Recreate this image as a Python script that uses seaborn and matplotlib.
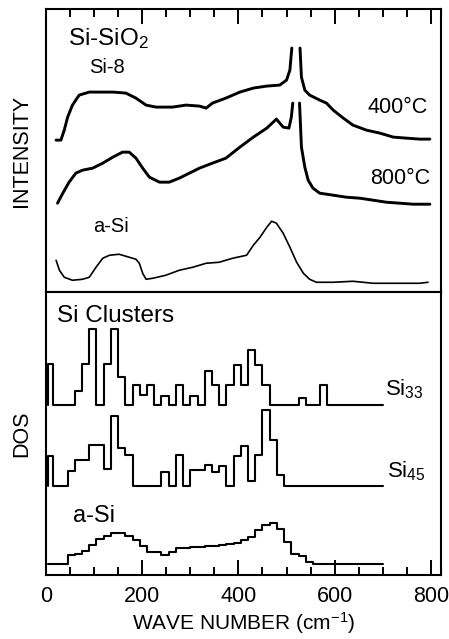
import numpy as np
import pandas as pd
import matplotlib
matplotlib.use("Agg")
import matplotlib.pyplot as plt
from matplotlib.ticker import MultipleLocator
import seaborn as sns

# Raman spectra (top panel) - wave number (cm-1) vs intensity (arb. units)
# nan = peak runs off the drawn range (line is broken there)
wn_400 = [21, 31, 38, 45, 55, 69, 90, 111, 139, 166, 187, 208, 229, 263, 291, 319, 333, 346, 374, 403,
          431, 459, 486, 500, 507, 511, 520, 528, 531, 538, 548, 569, 583, 597, 618, 638, 666, 694, 722, 749,
          777, 798]
int_400 = [152, 152, 162, 175, 187, 197, 200, 200, 200, 199, 194, 187, 185, 185, 187, 186, 184, 189, 194, 200,
           204, 206, 207, 212, 222, 244, np.nan, 244, 215, 202, 197, 192, 189, 182, 174, 167, 162, 159, 155, 154,
           153, 153]

wn_800 = [24, 35, 48, 62, 76, 97, 118, 139, 159, 173, 187, 201, 215, 236, 256, 277, 298, 319, 346, 374,
          403, 431, 459, 479, 493, 505, 510, 513, 520, 527, 531, 538, 545, 555, 569, 597, 624, 652, 680, 707,
          735, 763, 798]
int_800 = [89, 99, 110, 119, 122, 124, 129, 135, 140, 140, 134, 124, 115, 110, 110, 114, 119, 124, 129, 134,
           145, 155, 164, 173, 165, 164, 175, 189, np.nan, 189, 145, 125, 112, 104, 99, 97, 95, 94, 92, 90,
           89, 88, 88]

wn_asi = [21, 28, 38, 55, 76, 90, 104, 118, 132, 152, 173, 187, 194, 201, 208, 222, 249, 277, 305, 333,
          360, 388, 417, 431, 445, 459, 469, 479, 493, 507, 521, 535, 548, 562, 597, 638, 680, 735, 777, 794]
int_asi = [32, 22, 15, 12, 13, 15, 25, 34, 37, 38, 35, 33, 29, 19, 13, 14, 17, 22, 25, 29,
           30, 34, 37, 47, 55, 65, 71, 69, 59, 45, 30, 19, 13, 10, 10, 11, 9, 9, 9, 10]

# density of states (bottom panel), 15 cm-1 bins
dos_edges = [5] + list(range(15, 700, 15)) + [700]
dos_si33 = [41.7, 0, 0, 0, 14.3, 41.7, 76, 0, 41.7, 76, 28, 0, 20.7, 10, 20.7, 0, 9, 0, 20.7, 0,
            9, 0, 34, 20.7, 0, 20.7, 40.7, 20.7, 55, 40.7, 20.7, 0, 0, 0, 0, 7.3, 0, 0, 20.7, 0,
            0, 0, 0, 0, 0, 0, 0]
dos_si45 = [30.5, 0, 0, 15, 26, 26, 41, 41, 17, 70.5, 38, 31, 0, 0, 0, 0, 14, 0, 31, 0,
            16, 16, 21, 14, 20, 0, 30, 40.5, 5.5, 31, 76, 46, 11, 0, 0, 0, 0, 0, 0, 0,
            0, 0, 0, 0, 0, 0, 0]
dos_asi = [0, 0, 0, 9, 10.5, 13, 19, 25, 28.5, 31, 31, 28.5, 24, 18, 12, 12, 9, 12.5, 16.5, 16.5,
           17, 17.5, 18, 18.5, 19, 20.5, 21, 24, 27.5, 34, 39, 41.5, 35, 22, 10.5, 8.3, 2, 0, 0, 0,
           0, 0, 0, 0, 0, 0, 0]

# vertical offsets of the stacked DOS curves
off_si33, off_si45, off_asi = 170, 89, 11

sns.set_style("ticks")
plt.rcParams['font.family'] = ['Liberation Sans', 'DejaVu Sans']
plt.rcParams['mathtext.default'] = 'regular'
plt.rcParams['axes.linewidth'] = 1.5
for k in ['text.color', 'axes.labelcolor', 'xtick.color', 'ytick.color', 'axes.edgecolor']:
    plt.rcParams[k] = 'black'


def spectrum_df(wn, inten):
    d = pd.DataFrame({'wn': wn, 'I': inten})
    d['seg'] = d['I'].isna().cumsum()
    return d.dropna()


def steps_df(edges, h, off):
    e = np.asarray(edges, dtype=float)
    h = np.asarray(h, dtype=float) + off
    x = np.concatenate([[e[0]], np.repeat(e, 2)[1:-1]])
    y = np.concatenate([[off], np.repeat(h, 2)])
    return pd.DataFrame({'wn': x, 'y': y, 'seg': 0})


fig = plt.figure(figsize=(4.49, 6.39), dpi=100)
ax1 = fig.add_axes([0.1024, 0.5426, 0.8797, 0.4433])
ax2 = fig.add_axes([0.1024, 0.0997, 0.8797, 0.4429])

# Raman
for wn, inten, lw in [(wn_400, int_400, 2.1), (wn_800, int_800, 2.1), (wn_asi, int_asi, 1.2)]:
    d = spectrum_df(wn, inten)
    sns.lineplot(data=d, x='wn', y='I', units='seg', estimator=None, sort=False,
                 color='black', linewidth=lw, ax=ax1, legend=False)

# DOS
for h, off in [(dos_si33, off_si33), (dos_si45, off_si45), (dos_asi, off_asi)]:
    d = steps_df(dos_edges, h, off)
    sns.lineplot(data=d, x='wn', y='y', units='seg', estimator=None, sort=False,
                 color='black', linewidth=1.5, ax=ax2, legend=False)

for ax in (ax1, ax2):
    ax.set_xlim(0, 821)
    ax.set_ylim(0, 283)
    ax.set_yticks([])
    ax.xaxis.set_major_locator(MultipleLocator(200))
    ax.xaxis.set_minor_locator(MultipleLocator(50))
    ax.tick_params(axis='x', which='major', direction='in', length=11, width=1.4)
    ax.tick_params(axis='x', which='minor', direction='in', length=5.5, width=1.4)

ax1.tick_params(axis='x', which='both', top=True, bottom=False, labelbottom=False, labeltop=False)
ax2.tick_params(axis='x', which='both', top=False, bottom=True, labelsize=15.5, pad=8)

ax1.set_xlabel('')
ax1.set_ylabel('INTENSITY', fontsize=15.5, labelpad=10)
ax2.set_xlabel('WAVE NUMBER (cm$^{-1}$)', fontsize=15, labelpad=2)
ax2.set_ylabel('DOS', fontsize=15.5, labelpad=10)

ax1.text(46, 247, 'Si-SiO$_2$', fontsize=17.5)
ax1.text(89, 219, 'Si-8', fontsize=14.5)
ax1.text(794, 179, '400°C', fontsize=15.5, ha='right')
ax1.text(798, 108, '800°C', fontsize=15.5, ha='right')
ax1.text(98, 60, 'a-Si', fontsize=14.5)

ax2.text(23, 253, 'Si Clusters', fontsize=17.5)
ax2.text(705, 180, 'Si$_{33}$', fontsize=16)
ax2.text(709, 98, 'Si$_{45}$', fontsize=16)
ax2.text(56, 53, 'a-Si', fontsize=17)

fig.savefig('out.png', dpi=100)
